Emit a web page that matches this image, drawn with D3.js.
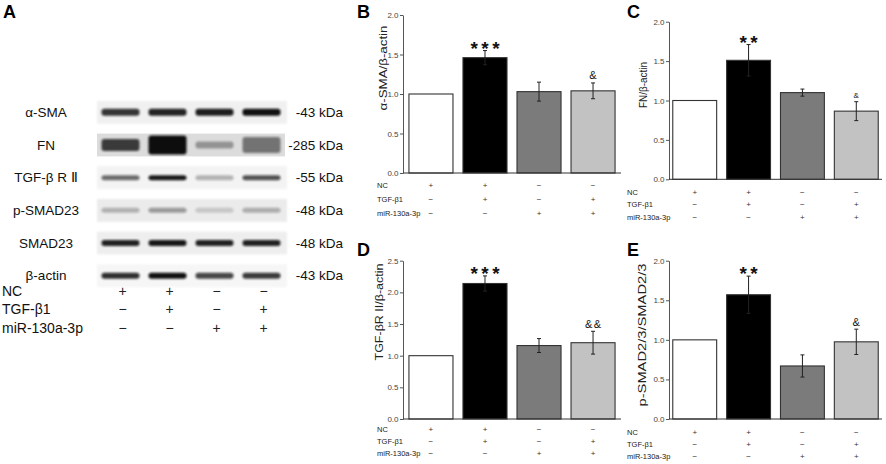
<!DOCTYPE html>
<html>
<head>
<meta charset="utf-8">
<script src="https://cdn.jsdelivr.net/npm/d3@7"></script>
<style>
  body { margin: 0; background: #fff; }
  svg { display: block; font-family: "Liberation Sans", Arial, sans-serif; }
</style>
</head>
<body>
<div id="canvas"></div>
<script>
"use strict";

/* ---- data ---- */
// treatment groups, left to right (blot lanes and bars)
const groups = ["NC", "TGF-β1", "miR-130a-3p", "TGF-β1+miR-130a-3p"];
const signLabels = ["NC", "TGF-β1", "miR-130a-3p"];
const ncSigns  = ["+", "+", "−", "−"];
const tgfSigns = ["−", "+", "−", "+"];
const mirSigns = ["−", "−", "+", "+"];

// western blot (panel A): band darkness 0..1 for each lane
const blotProteins = ["α-SMA", "FN", "TGF-β R Ⅱ", "p-SMAD23", "SMAD23", "β-actin"];
const blotSizes    = ["-43 kDa", "-285 kDa", "-55 kDa", "-48 kDa", "-48 kDa", "-43 kDa"];
const smaBands   = [0.82, 0.90, 0.92, 0.98];
const fnBands    = [0.78, 1.00, 0.35, 0.50];
const tgfrBands  = [0.58, 0.95, 0.28, 0.70];
const psmadBands = [0.26, 0.36, 0.16, 0.28];
const smadBands  = [0.90, 0.95, 0.90, 0.90];
const actinBands = [0.85, 0.98, 0.75, 0.80];

// quantification (relative ratio) : mean and error
const smaMean   = [1.00, 1.46, 1.03, 1.04];
const smaErr    = [0, 0.09, 0.12, 0.10];
const fnMean    = [1.00, 1.51, 1.10, 0.865];
const fnErr     = [0, 0.20, 0.045, 0.12];
const tgfrMean  = [1.00, 2.14, 1.16, 1.205];
const tgfrErr   = [0, 0.12, 0.11, 0.18];
const psmadMean = [1.00, 1.57, 0.67, 0.975];
const psmadErr  = [0, 0.235, 0.14, 0.16];

// significance marks above the bars
const smaMarks   = ["", "***", "", "&"];
const fnMarks    = ["", "**", "", "&"];
const tgfrMarks  = ["", "***", "", "&&"];
const psmadMarks = ["", "**", "", "&"];

const ticks20 = [0, 0.5, 1.0, 1.5, 2.0];
const ticks25 = [0, 0.5, 1.0, 1.5, 2.0, 2.5];

/* ---- styles ---- */
const barFills = ["#ffffff", "#000000", "#7b7b7b", "#c2c2c2"];
const stripBg  = ["#f0f0f0", "#dcdcdc", "#f3f3f3", "#ebebeb", "#eeeeee", "#f6f6f6"];
const bandH    = [7, 0, 5, 5, 6, 6];
const fnBandH  = [12, 19, 7, 16];

const svg = d3.select("#canvas").append("svg")
  .attr("width", 886)
  .attr("height", 464);

svg.append("rect").attr("width", 886).attr("height", 464).attr("fill", "#fff");

const defs = svg.append("defs");
defs.append("filter").attr("id", "blur").attr("x", "-20%").attr("y", "-80%")
  .attr("width", "140%").attr("height", "260%")
  .append("feGaussianBlur").attr("stdDeviation", 1.1);
defs.append("filter").attr("id", "soft").attr("x", "-5%").attr("y", "-20%")
  .attr("width", "110%").attr("height", "140%")
  .append("feGaussianBlur").attr("stdDeviation", 1.0);

function panelLetter(t, x, y) {
  svg.append("text").attr("x", x).attr("y", y)
    .attr("font-size", 18).attr("font-weight", "bold").text(t);
}

/* ---- panel A : blot ---- */
panelLetter("A", 3, 18);

const laneX = d3.scaleBand().domain(groups).range([97, 285])
  .paddingInner(0.19).paddingOuter(0.095);
const rowY = d3.scaleBand().domain(blotProteins).range([96, 292])
  .paddingInner(0.3).paddingOuter(0.15);

const blotRows = [smaBands, fnBands, tgfrBands, psmadBands, smadBands, actinBands];
const gA = svg.append("g");

blotProteins.forEach((p, i) => {
  const y0 = rowY(p);
  const cy = y0 + rowY.bandwidth() / 2;
  // membrane strip
  gA.append("rect")
    .attr("x", 97).attr("y", y0)
    .attr("width", p === "FN" ? 188 : 190).attr("height", rowY.bandwidth())
    .attr("fill", stripBg[i])
    .attr("filter", p === "FN" ? null : "url(#soft)");
  // bands
  gA.selectAll(null)
    .data(blotRows[i])
    .enter().append("rect")
    .attr("x", (d, j) => laneX(groups[j]))
    .attr("width", laneX.bandwidth())
    .attr("y", (d, j) => cy - (p === "FN" ? fnBandH[j] : bandH[i]) / 2)
    .attr("height", (d, j) => p === "FN" ? fnBandH[j] : bandH[i])
    .attr("rx", 3)
    .attr("fill", "#111")
    .attr("opacity", d => d)
    .attr("filter", "url(#blur)");
  // labels
  gA.append("text").attr("x", 46).attr("y", cy + 4.6)
    .attr("text-anchor", "middle").attr("font-size", 13.5).attr("fill", "#111")
    .text(p);
  gA.append("text").attr("x", 343).attr("y", cy + 4.6)
    .attr("text-anchor", "end").attr("font-size", 13.5).attr("fill", "#111")
    .text(blotSizes[i]);
});

const signRows = [ncSigns, tgfSigns, mirSigns];
const blotSignY = [296, 313.5, 332.5];
signRows.forEach((row, r) => {
  gA.append("text").attr("x", 2).attr("y", blotSignY[r])
    .attr("font-size", 14).attr("fill", "#111").text(signLabels[r]);
  gA.selectAll(null).data(row).enter().append("text")
    .attr("x", (d, j) => laneX(groups[j]) + laneX.bandwidth() / 2 + 2)
    .attr("y", blotSignY[r])
    .attr("text-anchor", "middle").attr("font-size", 14).attr("fill", "#222")
    .text(d => d);
});

/* ---- bar panels B-E ---- */
function barPanel(o) {
  panelLetter(o.letter, o.letterX, o.letterY);
  const g = svg.append("g");

  const x = d3.scaleBand().domain(groups).range([o.left, o.right])
    .paddingInner(0.185).paddingOuter(o.padOuter);
  const y = d3.scaleLinear().domain([0, o.max]).range([o.bottom, o.top]);

  // y axis
  const ya = g.append("g").attr("transform", `translate(${o.left},0)`)
    .call(d3.axisLeft(y).tickValues(o.ticks).tickFormat(d3.format(".1f"))
      .tickSize(3).tickSizeOuter(0).tickPadding(1.5));
  ya.select(".domain").attr("stroke", "#555");
  ya.selectAll(".tick line").attr("stroke", "#555");
  ya.selectAll(".tick text").attr("font-size", 8).attr("fill", "#444")
    .attr("font-family", "Liberation Sans, Arial, sans-serif");

  // bars
  g.selectAll(null).data(o.mean).enter().append("rect")
    .attr("x", (d, i) => x(groups[i]))
    .attr("width", x.bandwidth())
    .attr("y", d => y(d))
    .attr("height", d => y(0) - y(d))
    .attr("fill", (d, i) => barFills[i])
    .attr("stroke", "#333").attr("stroke-width", 1.1);

  // error bars
  const cx = i => x(groups[i]) + x.bandwidth() / 2;
  o.mean.forEach((m, i) => {
    const e = o.err[i];
    if (!e) return;
    g.append("line").attr("x1", cx(i)).attr("x2", cx(i))
      .attr("y1", y(m - e)).attr("y2", y(m + e))
      .attr("stroke", "#222").attr("stroke-width", 1);
    [m - e, m + e].forEach(v => {
      g.append("line").attr("x1", cx(i) - 2).attr("x2", cx(i) + 2)
        .attr("y1", y(v)).attr("y2", y(v))
        .attr("stroke", "#222").attr("stroke-width", 1);
    });
  });

  // x axis line
  g.append("line").attr("x1", o.left).attr("x2", o.right)
    .attr("y1", y(0)).attr("y2", y(0))
    .attr("stroke", "#333").attr("stroke-width", 1);

  // significance marks
  o.marks.forEach((t, i) => {
    if (!t) return;
    const top = y(o.mean[i] + o.err[i]);
    const star = t.indexOf("*") >= 0;
    const el = g.append("text").attr("x", cx(i))
      .attr("text-anchor", "middle").attr("fill", "#111").text(t);
    if (star) {
      el.attr("y", top + 4).attr("font-size", 19).attr("font-weight", "bold")
        .attr("letter-spacing", 3.5).attr("dx", 1.75);
    } else {
      el.attr("y", top - 3.5).attr("font-size", o.ampSize);
      if (t.length > 1) el.attr("letter-spacing", 1.5).attr("dx", 0.75);
    }
  });

  // y label
  g.append("text")
    .attr("transform", `translate(${o.labelX},${o.labelY}) rotate(-90)`)
    .attr("text-anchor", "middle").attr("font-size", 11.5).attr("fill", "#222")
    .attr("textLength", o.labelLen).attr("lengthAdjust", "spacingAndGlyphs")
    .text(o.label);

  // treatment rows
  signRows.forEach((row, r) => {
    g.append("text").attr("x", o.signLabelX).attr("y", o.signY[r])
      .attr("font-size", 7.5).attr("fill", "#222").text(signLabels[r]);
    g.selectAll(null).data(row).enter().append("text")
      .attr("x", (d, i) => cx(i)).attr("y", o.signY[r])
      .attr("text-anchor", "middle").attr("font-size", 8).attr("fill", "#333")
      .text(d => d);
  });
}

barPanel({
  letter: "B", letterX: 357, letterY: 18,
  left: 403, right: 621, padOuter: 0.11, top: 15, bottom: 173, max: 2.0, ticks: ticks20,
  mean: smaMean, err: smaErr, marks: smaMarks, ampSize: 11,
  label: "α-SMA/β-actin", labelX: 387, labelY: 68, labelLen: 85,
  signLabelX: 377, signY: [188, 202, 216]
});

barPanel({
  letter: "C", letterX: 627, letterY: 18,
  left: 669, right: 882, padOuter: 0.07, top: 21.7, bottom: 179.3, max: 2.0, ticks: ticks20,
  mean: fnMean, err: fnErr, marks: fnMarks, ampSize: 8,
  label: "FN/β-actin", labelX: 647, labelY: 85, labelLen: 46,
  signLabelX: 627, signY: [194.5, 207, 220]
});

barPanel({
  letter: "D", letterX: 357, letterY: 256,
  left: 403, right: 621, padOuter: 0.11, top: 260.7, bottom: 419, max: 2.5, ticks: ticks25,
  mean: tgfrMean, err: tgfrErr, marks: tgfrMarks, ampSize: 11,
  label: "TGF-βR II/β-actin", labelX: 383, labelY: 312, labelLen: 97,
  signLabelX: 377, signY: [432, 443.5, 455.5]
});

barPanel({
  letter: "E", letterX: 627, letterY: 256,
  left: 669, right: 882, padOuter: 0.07, top: 260.7, bottom: 419, max: 2.0, ticks: ticks20,
  mean: psmadMean, err: psmadErr, marks: psmadMarks, ampSize: 11,
  label: "p-SMAD2/3/SMAD2/3", labelX: 646, labelY: 335, labelLen: 143,
  signLabelX: 627, signY: [434.5, 447, 459]
});
</script>
</body>
</html>
